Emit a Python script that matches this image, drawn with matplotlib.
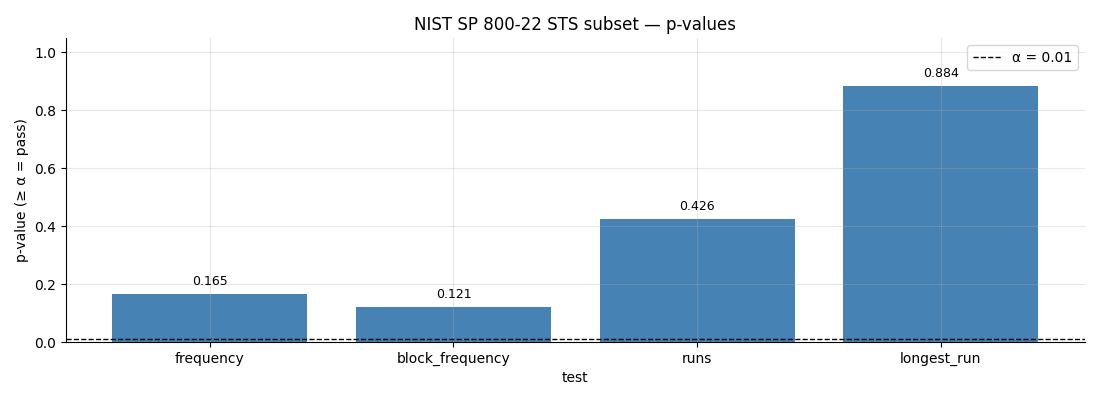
import matplotlib
matplotlib.use("Agg")
import matplotlib.pyplot as plt

tests = ["frequency", "block_frequency", "runs", "longest_run"]
p_values = [0.165, 0.121, 0.426, 0.884]
alpha = 0.01

fig, ax = plt.subplots(figsize=(11, 4), dpi=100)
fig.subplots_adjust(left=0.06, right=0.986, top=0.905, bottom=0.145)

bars = ax.bar(tests, p_values, color="steelblue", width=0.8)
for b, v in zip(bars, p_values):
    ax.text(b.get_x() + b.get_width() / 2, v + 0.02, f"{v:.3f}",
            ha="center", va="bottom", fontsize=9)

ax.axhline(alpha, color="black", linestyle="--", linewidth=1, label=f"α = {alpha}")
ax.set_ylim(0, 1.05)
ax.set_xlabel("test")
ax.set_ylabel("p-value (≥ α = pass)")
ax.set_title("NIST SP 800-22 STS subset — p-values")
ax.grid(True, alpha=0.3)
ax.spines["top"].set_visible(False)
ax.spines["right"].set_visible(False)
ax.legend(loc="upper right")

fig.savefig("out.png")
